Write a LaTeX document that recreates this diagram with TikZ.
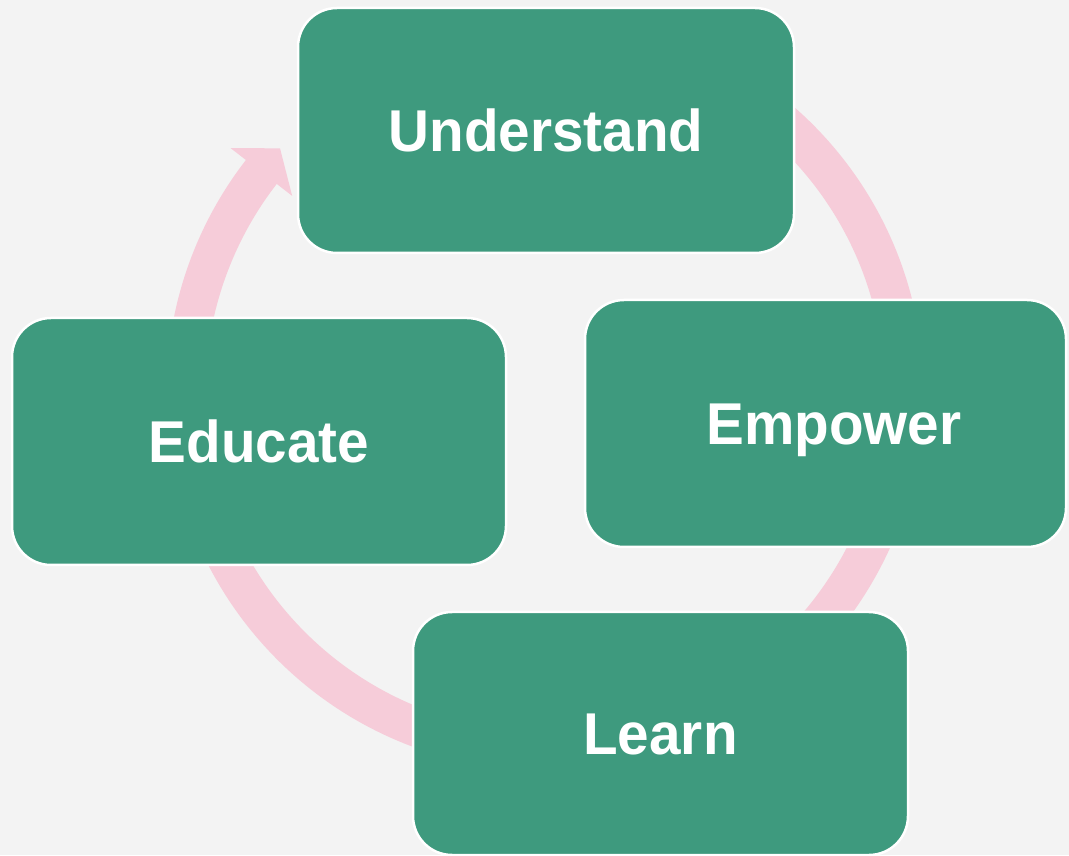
\documentclass[tikz,border=0pt]{standalone}
\usepackage{fontspec}
\newfontfamily\boxfont{Liberation Sans}[FakeStretch=0.96]
\usetikzlibrary{calc}
\definecolor{paper}{RGB}{243,243,243}
\definecolor{cyclegreen}{RGB}{62,154,126}
\definecolor{ringpink}{RGB}{246,204,217}
\begin{document}
\begin{tikzpicture}[x=1pt,y=1pt,
  stage/.style={rectangle, rounded corners=39pt, fill=cyclegreen, draw=white,
    line width=2.5pt, text=white, inner sep=0pt,
    font=\boxfont\bfseries\fontsize{59}{59}\selectfont,
    text height=42pt, text depth=0pt},
  ring/.style={draw=ringpink, line width=39pt}]
  % paper background
  \fill[paper] (0,0) rectangle (1069,855);
  \useasboundingbox (0,0) rectangle (1069,855);
  % circular arrow running clockwise behind the stages
  \coordinate (hub) at (545,463);
  \draw[ring] ($(hub)+(450:359)$) arc[start angle=450, end angle=142, radius=359];
  \fill[ringpink] ($(hub)+(142.2:320)$) -- ($(hub)+(137.4:360)$)
    -- ($(hub)+(142.2:398)$) -- cycle;
  % the four stages
  \node[stage, minimum width=496pt, minimum height=245pt] (understand) at (546,724.5) {Understand};
  \node[stage, minimum width=481pt, minimum height=247pt] (empower) at (825.5,431.5) {\hspace*{17pt}Empower};
  \node[stage, minimum width=494pt, minimum height=247pt] (educate) at (259,413.5) {Educate};
  \node[stage, minimum width=495pt, minimum height=243pt] (learn) at (660.5,121.5) {Learn};
\end{tikzpicture}
\end{document}
